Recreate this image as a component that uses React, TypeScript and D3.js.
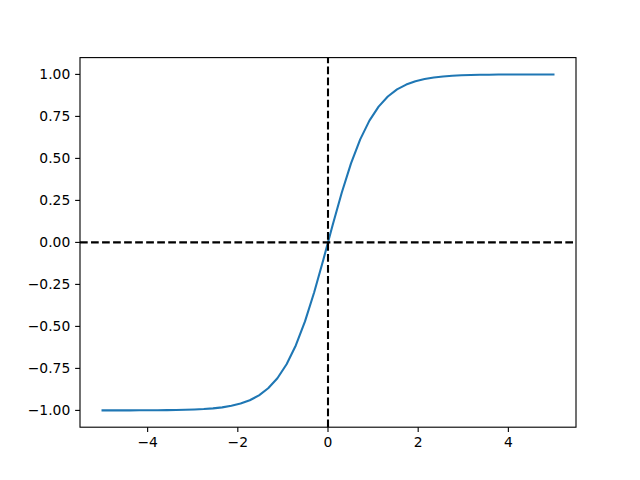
import React from "react";
import * as d3 from "d3";

// sample positions (50 points over [-5, 5])
const xs: number[] = [
  -5.0, -4.7959, -4.5918, -4.3878, -4.1837, -3.9796, -3.7755, -3.5714, -3.3673, -3.1633,
  -2.9592, -2.7551, -2.551, -2.3469, -2.1429, -1.9388, -1.7347, -1.5306, -1.3265, -1.1224,
  -0.9184, -0.7143, -0.5102, -0.3061, -0.102, 0.102, 0.3061, 0.5102, 0.7143, 0.9184,
  1.1224, 1.3265, 1.5306, 1.7347, 1.9388, 2.1429, 2.3469, 2.551, 2.7551, 2.9592,
  3.1633, 3.3673, 3.5714, 3.7755, 3.9796, 4.1837, 4.3878, 4.5918, 4.7959, 5.0,
];
const ys: number[] = [
  -0.9999, -0.9999, -0.9998, -0.9997, -0.9995, -0.9993, -0.9989, -0.9984, -0.9976, -0.9964,
  -0.9946, -0.9919, -0.9879, -0.9819, -0.9728, -0.9594, -0.9396, -0.9105, -0.8684, -0.8084,
  -0.7251, -0.6134, -0.4701, -0.2969, -0.1017, 0.1017, 0.2969, 0.4701, 0.6134, 0.7251,
  0.8084, 0.8684, 0.9105, 0.9396, 0.9594, 0.9728, 0.9819, 0.9879, 0.9919, 0.9946,
  0.9964, 0.9976, 0.9984, 0.9989, 0.9993, 0.9995, 0.9997, 0.9998, 0.9999, 0.9999,
];
const xTicks: number[] = [-4, -2, 0, 2, 4];
const yTicks: number[] = [-1, -0.75, -0.5, -0.25, 0, 0.25, 0.5, 0.75, 1];

const W = 640;
const H = 480;
const left = 80;
const right = 576;
const top = 57.6;
const bottom = 427.2;
const fontPx = 13.89;
const tickLen = 4.86;
const pad = 4.86;

const fmtMinus = (s: string) => s.replace("-", "\u2212");

export default function App() {
  const x = d3.scaleLinear().domain([-5.5, 5.5]).range([left, right]);
  const y = d3.scaleLinear().domain([-1.1, 1.1]).range([bottom, top]);
  const pts: [number, number][] = xs.map((v, i) => [v, ys[i]]);
  const line = d3
    .line<[number, number]>()
    .x((d) => x(d[0]))
    .y((d) => y(d[1]));

  return (
    <svg
      width={W}
      height={H}
      style={{ position: "absolute", left: 0, top: 0, background: "#fff" }}
      fontFamily="DejaVu Sans"
      fontSize={fontPx}
    >
      <rect x={0} y={0} width={W} height={H} fill="#fff" />
      <path
        d={line(pts) ?? ""}
        fill="none"
        stroke="#1f77b4"
        strokeWidth={2.08}
        strokeLinejoin="round"
        strokeLinecap="square"
      />
      <line
        x1={left}
        x2={right}
        y1={y(0)}
        y2={y(0)}
        stroke="#000"
        strokeWidth={2.08}
        strokeDasharray="7.7 3.33"
      />
      <line
        x1={x(0)}
        x2={x(0)}
        y1={bottom}
        y2={top}
        stroke="#000"
        strokeWidth={2.08}
        strokeDasharray="7.7 3.33"
      />
      <rect
        x={left}
        y={top}
        width={right - left}
        height={bottom - top}
        fill="none"
        stroke="#000"
        strokeWidth={1.11}
      />
      {xTicks.map((t) => (
        <g key={"x" + t}>
          <line x1={x(t)} x2={x(t)} y1={bottom} y2={bottom + tickLen} stroke="#000" strokeWidth={1.11} />
          <text x={x(t)} y={bottom + tickLen + pad + fontPx * 0.76} textAnchor="middle" fill="#000">
            {fmtMinus(String(t))}
          </text>
        </g>
      ))}
      {yTicks.map((t) => (
        <g key={"y" + t}>
          <line x1={left - tickLen} x2={left} y1={y(t)} y2={y(t)} stroke="#000" strokeWidth={1.11} />
          <text x={left - tickLen - pad} y={y(t) + fontPx * 0.36} textAnchor="end" fill="#000">
            {fmtMinus(t.toFixed(2))}
          </text>
        </g>
      ))}
    </svg>
  );
}
